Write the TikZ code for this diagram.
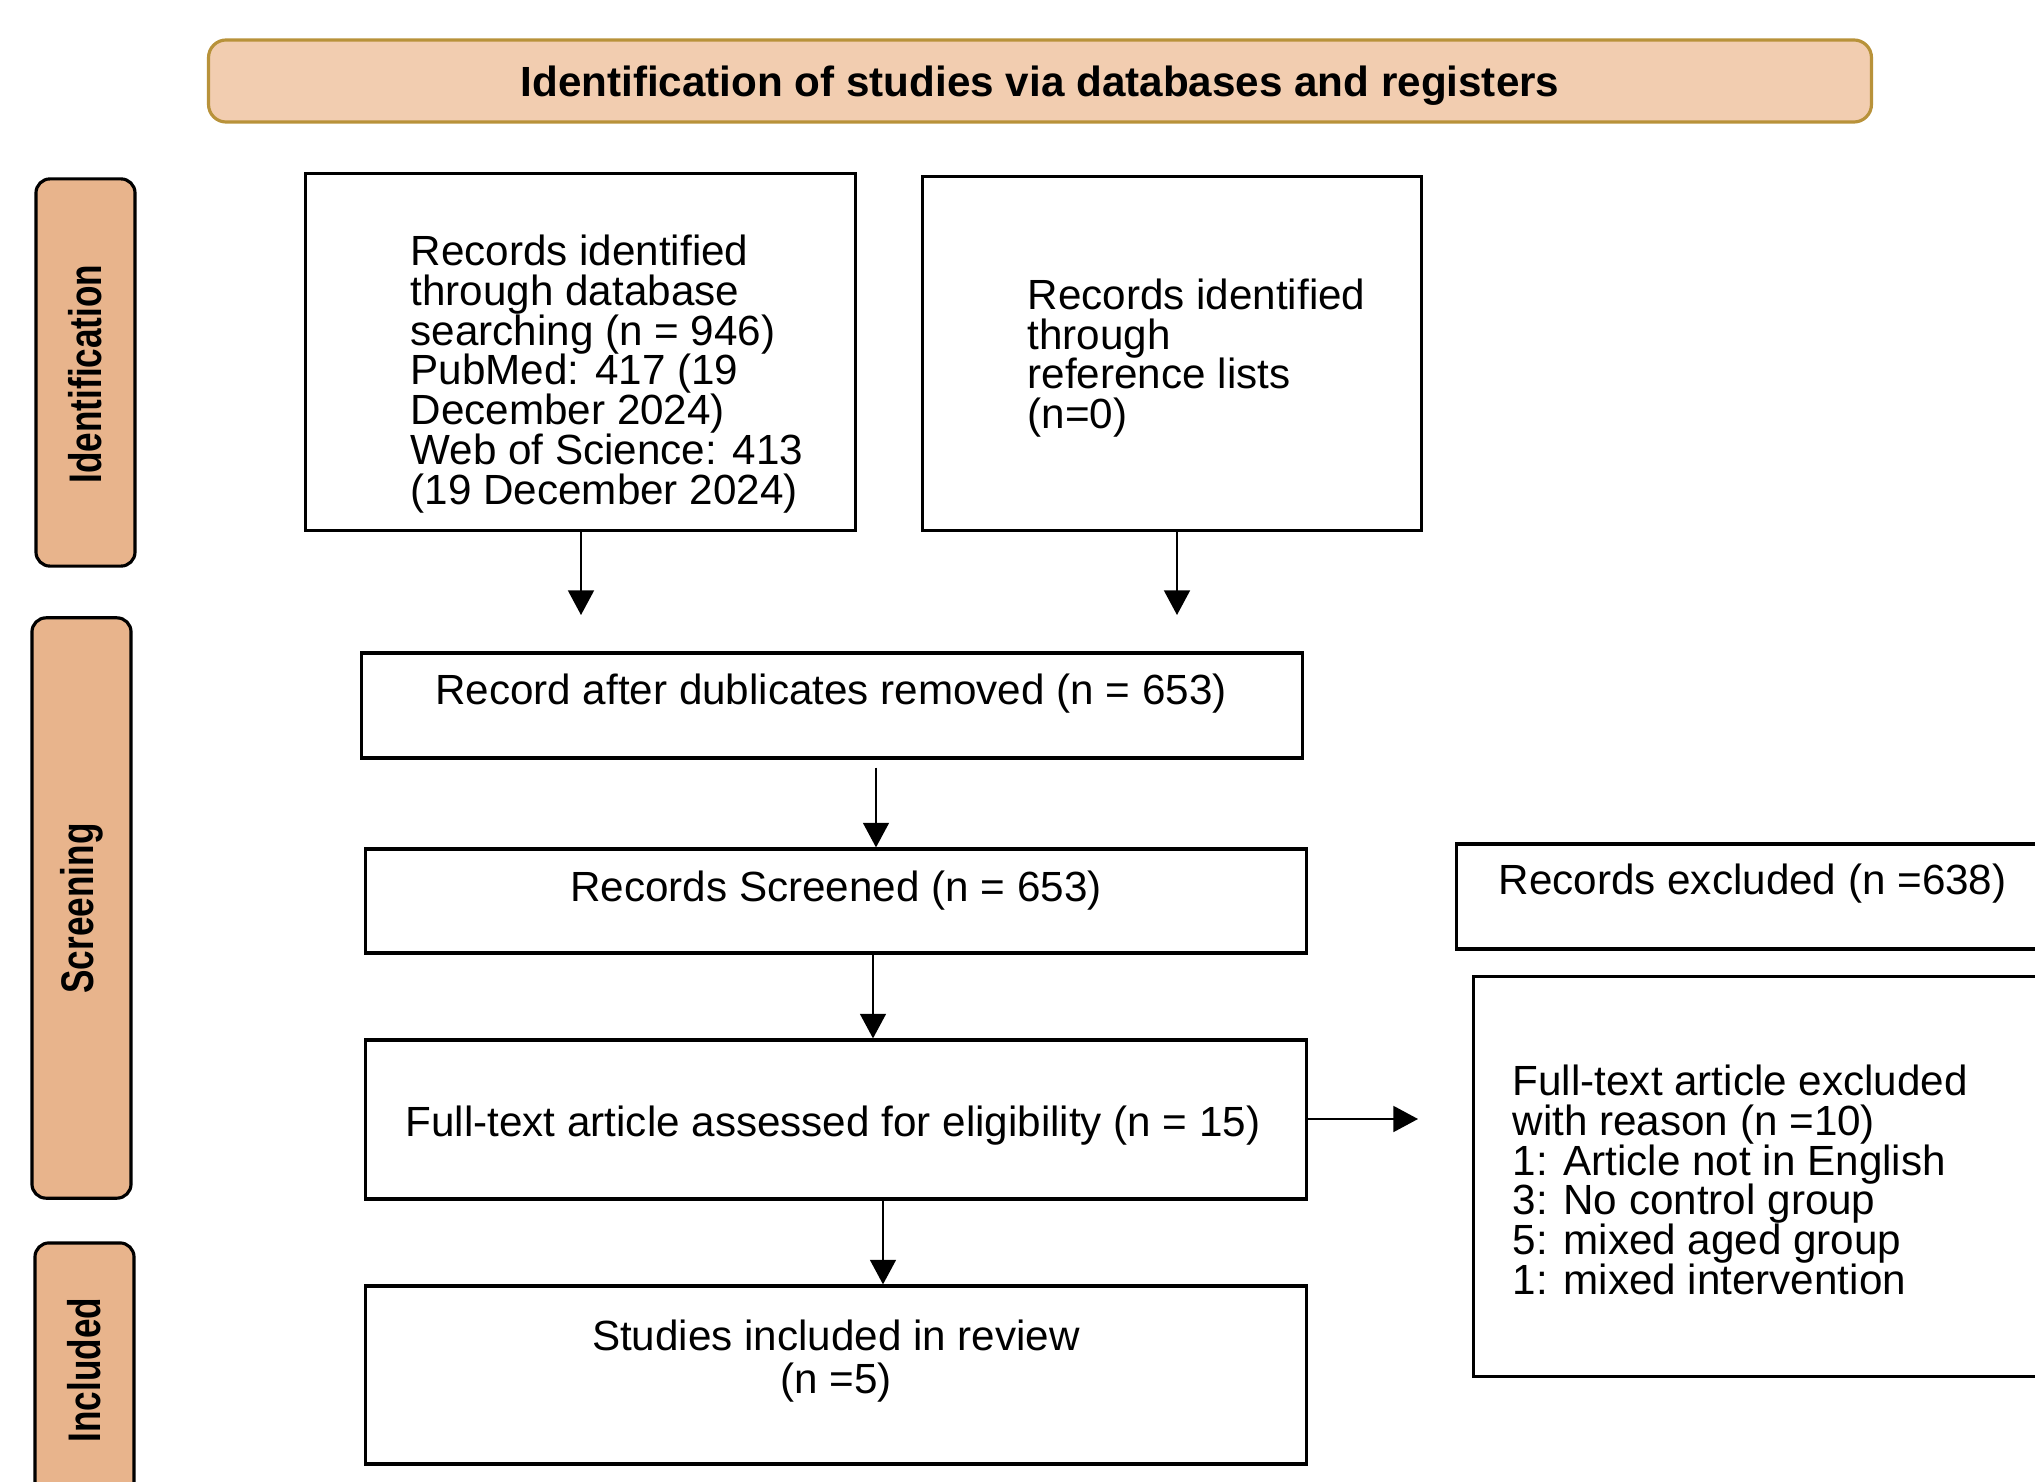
\documentclass[tikz,border=0pt]{standalone}
\usepackage{fontspec}
\setmainfont{Liberation Sans}
\usetikzlibrary{arrows.meta}
\definecolor{titlefill}{HTML}{F2CDB0}
\definecolor{titleedge}{HTML}{B8923A}
\definecolor{sidefill}{HTML}{E8B48C}
\tikzset{
  box/.style={draw=black, line width=0.9pt, inner sep=0pt, rectangle},
  side/.style={draw=black, line width=0.9pt, fill=sidefill, rounded corners=4pt, inner sep=0pt},
  sidetext/.style={rotate=90, yscale=1.3, font=\fontsize{10}{12}\selectfont\bfseries, inner sep=0pt},
  txt/.style={font=\fontsize{12}{11.3}\selectfont, inner sep=0pt},
  arr/.style={line width=0.45pt, -{Triangle[length=7pt, width=7.4pt]}},
}
\begin{document}
\begin{tikzpicture}[x=0.01cm, y=-0.01cm]
\path[use as bounding box] (0,0) rectangle (2035,1482);
\clip (0,0) rectangle (2035,1482);
% title
\node[draw=titleedge, line width=0.9pt, fill=titlefill, rounded corners=5pt, minimum width=16.62cm, minimum height=0.82cm, inner sep=0pt] (title) at (1040,81) {};
\node[font=\fontsize{12}{14}\selectfont\bfseries, inner sep=0pt] (titletext) at (1040,86) {Identification of studies via databases and registers};
% side labels
\node[side, minimum width=0.99cm, minimum height=3.87cm] (sid) at (85.5,372.5) {};
\node[sidetext] (sidt) at (85.5,374) {Identification};
\node[side, minimum width=0.99cm, minimum height=5.80cm] (sscr) at (81.5,908) {};
\node[sidetext] (sscrt) at (81.5,908.5) {Screening};
\node[side, minimum width=0.99cm, minimum height=2.77cm] (sinc) at (84.5,1381.5) {};
\node[sidetext] (sinct) at (84.5,1370) {Included};
% boxes
\node[box, minimum width=5.49cm, minimum height=3.56cm] (db) at (580.5,352) {};
\node[txt, align=left, anchor=west] (dbt) at (410,374) {Records identified\\through database\\searching (n = 946)\\PubMed: 417 (19\\December 2024)\\Web of Science: 413\\(19 December 2024)};
\node[box, minimum width=4.98cm, minimum height=3.53cm] (ref) at (1172,353.5) {};
\node[txt, align=left, anchor=west] (reft) at (1027,358) {Records identified\\through\\reference lists\\(n=0)};
\node[box, minimum width=9.40cm, minimum height=1.05cm] (dup) at (832,705.5) {};
\node[txt] (dupt) at (831,694) {Record after dublicates removed (n = 653)};
\node[box, minimum width=9.40cm, minimum height=1.04cm] (scr) at (836,901) {};
\node[txt] (scrt) at (836,891) {Records Screened (n = 653)};
\node[box, minimum width=6.43cm, minimum height=1.05cm] (rexc) at (1778.5,896.5) {};
\node[txt, anchor=west] (rexct) at (1498,884) {Records excluded (n =638)};
\node[box, minimum width=9.40cm, minimum height=1.59cm] (full) at (836,1119.5) {};
\node[txt] (fullt) at (833,1126) {Full-text article assessed for eligibility (n = 15)};
\node[box, minimum width=6.26cm, minimum height=3.99cm] (fexc) at (1787,1176.5) {};
\node[txt, align=left, anchor=west] (fexct) at (1512,1180) {Full-text article excluded\\with reason (n =10)\\1: Article not in English\\3: No control group\\5: mixed aged group\\1: mixed intervention};
\node[box, minimum width=9.40cm, minimum height=1.78cm] (inc) at (836,1375) {};
\node[txt, align=center, font=\fontsize{12}{12}\selectfont] (inct) at (836,1361) {Studies included in review\\(n =5)};
% connectors
\coordinate (e1) at (581,615);
\coordinate (e2) at (1177,615);
\coordinate (e5) at (1418,1119);
\draw[arr] (db.south -| e1) -- (e1);
\draw[arr] (ref.south -| e2) -- (e2);
\coordinate (x3) at (876,0);
\coordinate (x4) at (873,0);
\coordinate (x6) at (883,0);
\draw[arr] (dup.south -| x3) ++(0,8) -- (scr.north -| x3);
\draw[arr] (scr.south -| x4) -- (full.north -| x4);
\draw[arr] (full.east |- e5) -- (e5);
\draw[arr] (full.south -| x6) -- (inc.north -| x6);
\end{tikzpicture}
\end{document}
